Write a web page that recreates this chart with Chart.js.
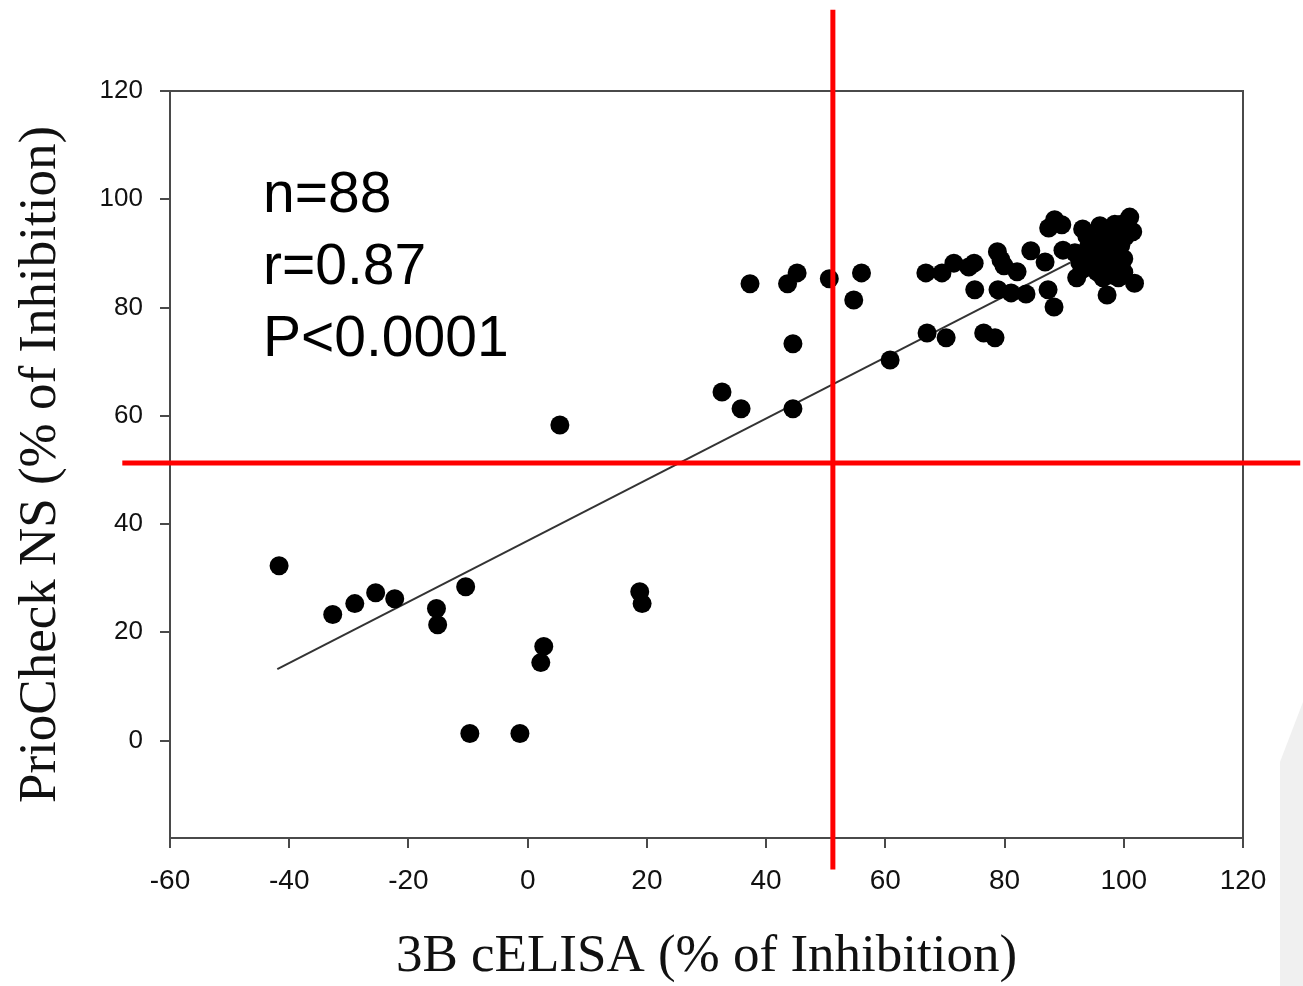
<!DOCTYPE html>
<html>
<head>
<meta charset="utf-8">
<script src="https://cdn.jsdelivr.net/npm/chart.js@4"></script>
<style>
  body { margin: 0; background: #fff; }
  canvas { display: block; }
</style>
</head>
<body>
<canvas id="grafica" width="1303" height="986"></canvas>
<script>
// 3B cELISA (x) vs PrioCheck NS (y), % of inhibition
const celisa = [
  -41.7, -32.7, -29.0, -25.5, -22.3, -15.3, -15.1, -10.4, -9.7, -1.3,
  2.7, 2.2, 5.4, 18.8, 19.2, 32.6, 35.8, 44.5, 44.5, 37.3,
  43.6, 45.2, 50.6, 56.0, 54.7, 60.8, 66.8, 67.0, 69.5, 70.2,
  71.5, 74.0, 74.9, 75.0, 76.5, 78.4, 78.8, 79.4, 79.9, 78.9,
  81.1, 82.1, 83.6, 84.4, 86.8, 87.3, 88.3, 87.4, 88.4, 89.6,
  89.8, 91.8, 92.1, 92.6, 93.1, 93.8, 94.8, 95.5, 96.0, 96.5,
  97.2, 98.0, 98.5, 98.9, 99.1, 99.6, 100.2, 101.0, 101.8, 95.0,
  96.0, 97.0, 97.5, 98.0, 98.5, 99.0, 99.5, 100.0, 100.5, 97.0,
  96.5, 98.0, 99.0, 95.5, 94.0, 100.0, 101.5, 93.0
];
const priocheck = [
  32.3, 23.3, 25.3, 27.3, 26.2, 24.4, 21.4, 28.4, 1.3, 1.3,
  17.4, 14.4, 58.3, 27.5, 25.3, 64.4, 61.3, 61.3, 73.3, 84.4,
  84.4, 86.4, 85.3, 86.4, 81.4, 70.3, 86.4, 75.3, 86.4, 74.4,
  88.2, 87.5, 88.2, 83.3, 75.3, 74.4, 90.3, 88.8, 87.7, 83.3,
  82.7, 86.6, 82.5, 90.5, 88.4, 83.3, 80.1, 94.7, 96.2, 95.3,
  90.6, 90.1, 85.5, 88.4, 94.5, 93.2, 88.4, 86.6, 95.1, 90.6,
  82.3, 89.3, 95.4, 92.5, 85.5, 95.4, 93.0, 96.7, 84.5, 92.0,
  88.0, 91.0, 87.0, 93.5, 90.0, 88.0, 91.5, 89.0, 95.0, 94.0,
  85.5, 86.0, 94.0, 90.0, 91.0, 86.5, 94.0, 87.0
];

// fitted line end points
const fitX = [-42, 91];
const fitY = [13.2, 88.3];

const xTicks = [-60, -40, -20, 0, 20, 40, 60, 80, 100, 120];
const yTicks = [0, 20, 40, 60, 80, 100, 120];

// cut-off values (red lines)
const cutoffX = 51.2;
const cutoffY = 51.3;

const stats = ["n=88", "r=0.87", "P<0.0001"];

const puntos = celisa.map((x, i) => ({ x: x, y: priocheck[i] }));
const recta = fitX.map((x, i) => ({ x: x, y: fitY[i] }));

const marco = {
  id: "marco",
  beforeDraw(chart) {
    const ctx = chart.ctx;
    ctx.save();
    ctx.fillStyle = "#fff";
    ctx.fillRect(0, 0, chart.width, chart.height);
    // light grey artefact at bottom right of the original picture
    ctx.fillStyle = "#f0f0f0";
    ctx.beginPath();
    ctx.moveTo(1280, 762);
    ctx.lineTo(1303, 702);
    ctx.lineTo(1303, 986);
    ctx.lineTo(1280, 986);
    ctx.closePath();
    ctx.fill();
    ctx.restore();
  },
  afterDatasetsDraw(chart) {
    const { ctx, chartArea: a, scales: { x, y } } = chart;
    ctx.save();
    // top and right frame
    ctx.strokeStyle = "#4a4a4a";
    ctx.lineWidth = 2;
    ctx.beginPath();
    ctx.moveTo(a.left, a.top);
    ctx.lineTo(a.right, a.top);
    ctx.lineTo(a.right, a.bottom);
    ctx.stroke();

    // stats text
    ctx.fillStyle = "#000";
    ctx.font = "57px 'Liberation Sans', Arial, sans-serif";
    ctx.textAlign = "left";
    ctx.textBaseline = "alphabetic";
    const tx = x.getPixelForValue(-44.4);
    const ty = y.getPixelForValue(97.7);
    stats.forEach((s, i) => ctx.fillText(s, tx, ty + i * 72));

    // red cut-off lines
    ctx.strokeStyle = "#ff0000";
    ctx.lineWidth = 5;
    const cx = x.getPixelForValue(cutoffX);
    const cy = y.getPixelForValue(cutoffY);
    ctx.beginPath();
    ctx.moveTo(cx, y.getPixelForValue(135));
    ctx.lineTo(cx, y.getPixelForValue(-23.8));
    ctx.moveTo(x.getPixelForValue(-68), cy);
    ctx.lineTo(x.getPixelForValue(129.6), cy);
    ctx.stroke();
    ctx.restore();
  }
};

window.onload = () => {
  new Chart(document.getElementById("grafica"), {
    type: "scatter",
    data: {
      datasets: [
        {
          label: "Muestras",
          data: puntos,
          backgroundColor: "#000",
          borderWidth: 0,
          pointRadius: 9.5,
          pointHoverRadius: 9.5,
          order: 1
        },
        {
          label: "Regresión",
          data: recta,
          showLine: true,
          borderColor: "#333",
          borderWidth: 2,
          pointRadius: 0,
          fill: false,
          order: 2
        }
      ]
    },
    options: {
      responsive: false,
      animation: false,
      layout: { padding: { left: 0, top: 91, right: 60, bottom: 0 } },
      plugins: { legend: { display: false }, tooltip: { enabled: false } },
      scales: {
        x: {
          type: "linear",
          min: -60,
          max: 120,
          afterBuildTicks: (axis) => { axis.ticks = xTicks.map(v => ({ value: v })); },
          afterFit: (axis) => { axis.height = 148; },
          grid: { drawOnChartArea: false, drawTicks: true, tickLength: 10, color: "#4a4a4a", lineWidth: 2 },
          border: { display: true, color: "#4a4a4a", width: 2 },
          ticks: { color: "#111", padding: 16, maxRotation: 0, font: { family: "'Liberation Sans', Arial", size: 28 } },
          title: {
            display: true,
            text: "3B cELISA (% of Inhibition)",
            color: "#111",
            padding: { top: 0, bottom: -3 },
            font: { family: "'Liberation Serif', 'Times New Roman', serif", size: 53 }
          }
        },
        y: {
          type: "linear",
          min: -18,
          max: 120,
          afterBuildTicks: (axis) => { axis.ticks = yTicks.map(v => ({ value: v })); },
          afterFit: (axis) => { axis.width = 170; },
          grid: { drawOnChartArea: false, drawTicks: true, tickLength: 10, color: "#4a4a4a", lineWidth: 2 },
          border: { display: true, color: "#4a4a4a", width: 2 },
          ticks: { color: "#111", padding: 17, font: { family: "'Liberation Sans', Arial", size: 26 } },
          title: {
            display: true,
            text: "PrioCheck NS (% of Inhibition)",
            color: "#111",
            padding: { top: 9, bottom: 0 },
            font: { family: "'Liberation Serif', 'Times New Roman', serif", size: 53 }
          }
        }
      }
    },
    plugins: [marco]
  });
};
</script>
</body>
</html>
